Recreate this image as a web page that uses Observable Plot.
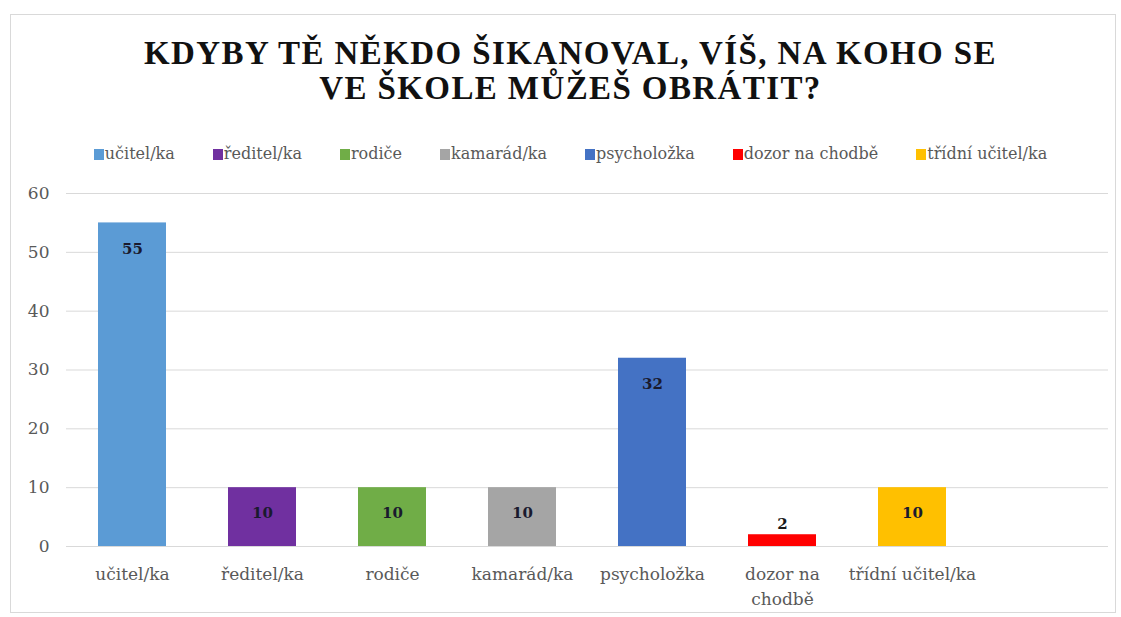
<!DOCTYPE html>
<html>
<head>
<meta charset="utf-8">
<script src="https://cdn.jsdelivr.net/npm/d3@7"></script>
<script src="https://cdn.jsdelivr.net/npm/@observablehq/plot@0.6"></script>
<style>
  html, body { margin: 0; padding: 0; background: #fff; }
  body { width: 1121px; height: 617px; position: relative; overflow: hidden; font-family: "DejaVu Serif", serif; }
  #frame { position: absolute; left: 10px; top: 14px; width: 1104px; height: 597px; border: 1px solid #d9d9d9; pointer-events: none; }
  #title { height: 118px; box-sizing: border-box; padding-top: 36px; padding-left: 20px; text-align: center; font-family: "Liberation Serif", "Times New Roman", serif; font-weight: bold; font-size: 33px; line-height: 35px; color: #111; letter-spacing: 1.4px; white-space: nowrap; }
  #legend { height: 52px; box-sizing: border-box; padding-top: 20px; padding-left: 20px; display: flex; justify-content: center; gap: 38px; font-family: "DejaVu Serif", serif; font-size: 16px; line-height: 20px; color: #595959; }
  #legend .item { display: flex; align-items: center; }
  #legend .sw { width: 10px; height: 11px; margin-right: 1px; }
  #chart svg { display: block; }
</style>
</head>
<body>
<div id="frame"></div>
<div id="title">KDYBY TĚ NĚKDO ŠIKANOVAL, VÍŠ, NA KOHO SE<br>VE ŠKOLE MŮŽEŠ OBRÁTIT?</div>
<div id="legend"></div>
<div id="chart"></div>
<script>
const categories = ["učitel/ka", "ředitel/ka", "rodiče", "kamarád/ka", "psycholožka", "dozor na chodbě", "třídní učitel/ka"];
const values = [55, 10, 10, 10, 32, 2, 10];
const colors = ["#5B9BD5", "#7030A0", "#70AD47", "#A5A5A5", "#4472C4", "#FF0000", "#FFC000"];
const yTicks = [0, 10, 20, 30, 40, 50, 60];

const data = categories.map((c, i) => ({category: c, value: values[i]}));

// Legend
const legend = document.getElementById("legend");
categories.forEach((c, i) => {
  const item = document.createElement("div");
  item.className = "item";
  const sw = document.createElement("span");
  sw.className = "sw";
  sw.style.background = colors[i];
  const t = document.createElement("span");
  t.textContent = c;
  item.appendChild(sw);
  item.appendChild(t);
  legend.appendChild(item);
});

const domainX = [...categories, ""];
const fmtX = d => d === "dozor na chodbě" ? "dozor na\nchodbě" : d;

const chart = Plot.plot({
  width: 1121,
  height: 447,
  marginLeft: 66,
  marginRight: 13,
  marginTop: 23,
  marginBottom: 71,
  style: {fontFamily: "'DejaVu Serif', serif", background: "#fff"},
  x: {domain: domainX, paddingInner: 0.48, paddingOuter: 0.24, align: 0.5},
  y: {domain: [0, 60]},
  color: {domain: categories, range: colors},
  marks: [
    Plot.gridY(yTicks, {stroke: "#d9d9d9", strokeOpacity: 1, strokeWidth: 1}),
    Plot.barY(data, {x: "category", y: "value", fill: "category"}),
    Plot.ruleY([0], {stroke: "#d9d9d9", strokeWidth: 1}),
    Plot.axisY(yTicks, {tickSize: 0, tickPadding: 17, fontSize: 17, fill: "#595959", label: null}),
    Plot.axisX({tickSize: 0, tickPadding: 16, fontSize: 17, fill: "#595959", label: null, tickFormat: fmtX, lineHeight: 1.45}),
    Plot.text(data.filter(d => d.value >= 5), {x: "category", y: "value", text: d => String(d.value), dy: 26, fontSize: 15, fontWeight: "bold", fill: "#1a1a2e"}),
    Plot.text(data.filter(d => d.value < 5), {x: "category", y: "value", text: d => String(d.value), dy: -11, fontSize: 15, fontWeight: "bold", fill: "#1a1a1a"})
  ]
});
document.getElementById("chart").appendChild(chart);
</script>
</body>
</html>
